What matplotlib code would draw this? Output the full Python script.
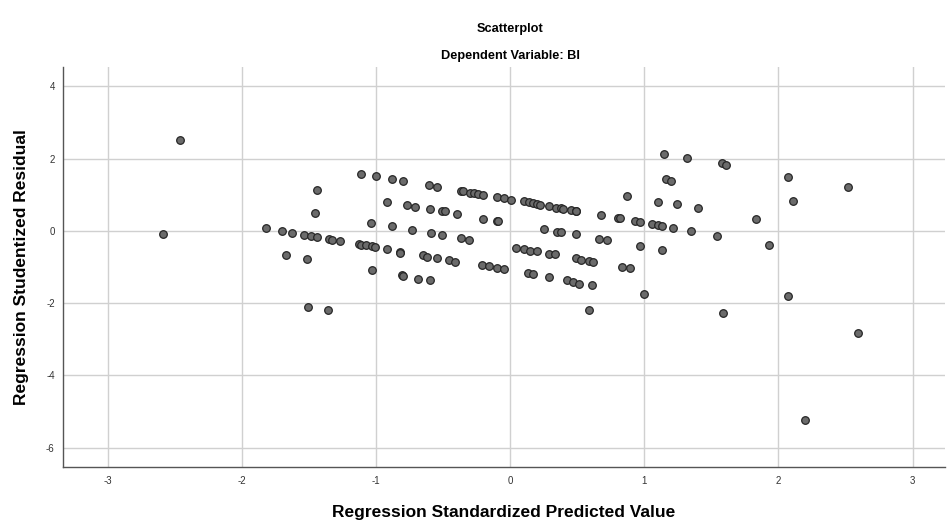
import matplotlib
matplotlib.use('Agg')
import matplotlib.pyplot as plt
import numpy as np

plt.rcParams['font.family'] = ['Liberation Sans', 'DejaVu Sans']
plt.rcParams['axes.unicode_minus'] = False

# standardized predicted value (x) and studentized residual (y)
pred_left = [-2.59, -2.46, -1.82, -1.70, -1.63, -1.54, -1.49, -1.44, -1.35, -1.33,
             -1.27, -1.67, -1.52, -1.46, -1.44, -1.51, -1.36, -1.11, -1.00, -1.04,
             -1.13, -1.11, -1.08, -1.03, -1.01, -1.03]
resid_left = [-0.08, 2.51, 0.07, -0.01, -0.05, -0.11, -0.14, -0.17, -0.23, -0.24,
              -0.28, -0.68, -0.78, 0.50, 1.14, -2.10, -2.18, 1.58, 1.51, 0.23,
              -0.37, -0.38, -0.39, -0.43, -0.44, -1.08]

pred_band1 = [-0.88, -0.80, -0.61, -0.55, -0.37, -0.35, -0.30, -0.27, -0.24, -0.20,
              -0.10, -0.05, 0.005, 0.10, 0.14, 0.17, 0.20, 0.22, 0.29, 0.34,
              0.38, 0.39, 0.45, 0.49, 0.49]
resid_band1 = [1.43, 1.38, 1.27, 1.22, 1.11, 1.09, 1.06, 1.04, 1.01, 1.00,
               0.93, 0.90, 0.86, 0.82, 0.79, 0.77, 0.74, 0.72, 0.68, 0.64,
               0.62, 0.60, 0.58, 0.54, 0.56]

pred_band2 = [-0.92, -0.77, -0.71, -0.60, -0.51, -0.49, -0.40, -0.20, -0.10, -0.09,
              0.68, 0.80, 0.82, 0.93, 0.97, 1.06, 1.10, 1.13, 1.21, 1.35,
              1.54, 1.93]
resid_band2 = [0.80, 0.71, 0.66, 0.60, 0.54, 0.54, 0.46, 0.34, 0.28, 0.27,
               0.43, 0.36, 0.35, 0.26, 0.24, 0.185, 0.16, 0.13, 0.09, 0.0,
               -0.14, -0.39]

pred_band3 = [-0.88, -0.73, -0.59, -0.51, -0.37, -0.31, 0.25, 0.35, 0.38, 0.49,
              0.66, 0.72, 0.97, 1.13]
resid_band3 = [0.13, 0.03, -0.065, -0.11, -0.20, -0.25, 0.05, -0.02, -0.04, -0.09,
               -0.22, -0.26, -0.43, -0.53]

pred_band4 = [-0.92, -0.82, -0.82, -0.65, -0.62, -0.55, -0.46, -0.41, -0.21, -0.16,
              -0.10, -0.05, 0.045, 0.10, 0.15, 0.20, 0.29, 0.33, 0.49, 0.53,
              0.59, 0.62, 0.83, 0.89]
resid_band4 = [-0.51, -0.58, -0.62, -0.67, -0.71, -0.74, -0.82, -0.85, -0.95, -0.98,
               -1.02, -1.05, -0.47, -0.51, -0.55, -0.57, -0.63, -0.64, -0.75, -0.80,
               -0.83, -0.85, -0.99, -1.02]

pred_band5 = [-0.81, -0.80, -0.69, -0.60, 0.13, 0.17, 0.29, 0.42, 0.47, 0.51,
              0.61, 0.59, 1.00]
resid_band5 = [-1.21, -1.24, -1.32, -1.37, -1.17, -1.19, -1.27, -1.36, -1.42, -1.46,
               -1.51, -2.19, -1.76]

pred_right = [0.87, 1.15, 1.32, 1.58, 1.61, 2.07, 2.52, 2.11, 1.16, 1.20,
              1.10, 1.24, 1.40, 1.83, 2.07, 1.59, 2.59, 2.20]
resid_right = [0.96, 2.12, 2.03, 1.89, 1.82, 1.50, 1.21, 0.84, 1.43, 1.39,
               0.80, 0.74, 0.62, 0.34, -1.79, -2.28, -2.82, -5.23]

x_ticks = [-3, -2, -1, 0, 1, 2, 3]
y_ticks = [-6, -4, -2, 0, 2, 4]

x = np.array(pred_left + pred_band1 + pred_band2 + pred_band3 + pred_band4 + pred_band5 + pred_right)
y = np.array(resid_left + resid_band1 + resid_band2 + resid_band3 + resid_band4 + resid_band5 + resid_right)

fig = plt.figure(figsize=(9.48, 5.22), dpi=100)
ax = fig.add_axes([0.0665, 0.105, 0.93, 0.767])

ax.scatter(x, y, s=30, facecolor='#6b6b6b', edgecolor='#262626', linewidth=0.9, zorder=3)

ax.set_xlim(-3.336, 3.24)
ax.set_ylim(-6.54, 4.54)
ax.set_xticks(x_ticks)
ax.set_yticks(y_ticks)
ax.tick_params(length=0, labelsize=7, colors='#333333', pad=6)
ax.grid(True, color='#d0d0d0', linewidth=1.0, zorder=0)

for side in ['top', 'right']:
    ax.spines[side].set_visible(False)
for side in ['left', 'bottom']:
    ax.spines[side].set_color('#555555')
    ax.spines[side].set_linewidth(1.0)

ax.set_xlabel('Regression Standardized Predicted Value', fontsize=12.5, fontweight='bold', labelpad=14)
ax.set_ylabel('Regression Studentized Residual', fontsize=12.5, fontweight='bold', labelpad=12)

fig.text(0.538, 0.945, 'Scatterplot', ha='center', va='center', fontsize=9.2, fontweight='bold')
fig.text(0.538, 0.893, 'Dependent Variable: BI', ha='center', va='center', fontsize=9.2, fontweight='bold')

plt.savefig('out.png', dpi=100)
